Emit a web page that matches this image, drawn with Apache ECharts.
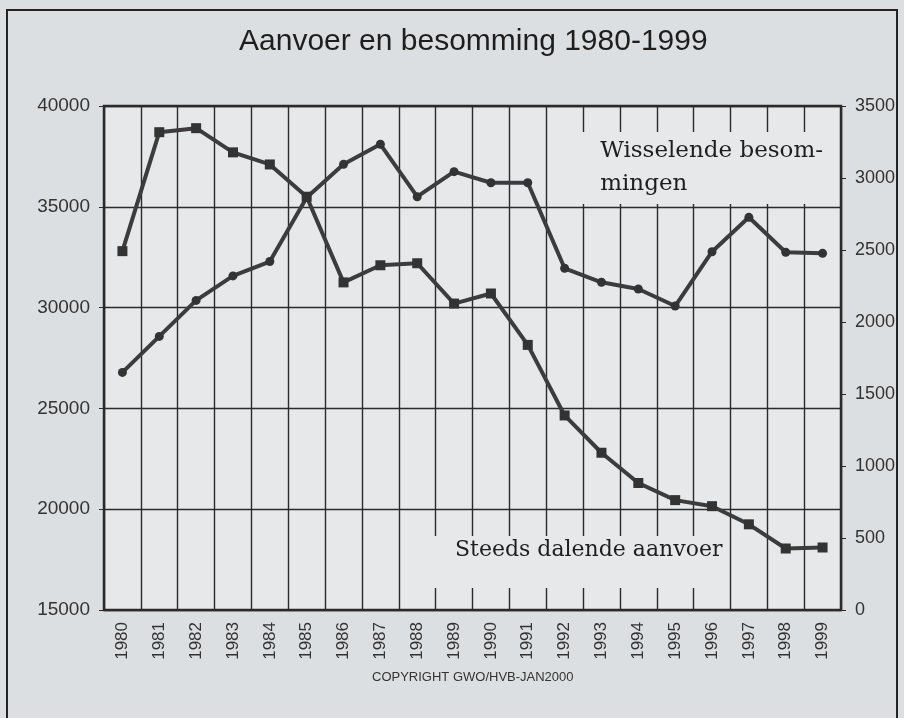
<!DOCTYPE html>
<html>
<head>
<meta charset="utf-8">
<title>Aanvoer en besomming 1980-1999</title>
<script src="https://cdn.jsdelivr.net/npm/echarts@6/dist/echarts.min.js"></script>
<style>
  html, body { margin: 0; padding: 0; background: #dcdfe1; }
  #chartLineBox { width: 904px; height: 718px; }
</style>
</head>
<body>
<div id="chartLineBox"></div>
<script>
// jaren (x-as)
var years = ['1980', '1981', '1982', '1983', '1984', '1985', '1986', '1987', '1988', '1989',
  '1990', '1991', '1992', '1993', '1994', '1995', '1996', '1997', '1998', '1999'];

// aanvoer, linker as
var aanvoer = [32800, 38700, 38900, 37700, 37100, 35500, 31250, 32100, 32200, 30200,
  30700, 28150, 24650, 22800, 21300, 20450, 20150, 19250, 18050, 18100];

// besomming, rechter as
var besomming = [1650, 1900, 2150, 2320, 2420, 2865, 3095, 3234, 2870, 3044,
  2967, 2967, 2373, 2276, 2229, 2111, 2488, 2727, 2484, 2477];

var leftTicks = { min: 15000, max: 40000, step: 5000 };
var rightTicks = { min: 0, max: 3500, step: 500 };

var chartLine = echarts.init(document.getElementById('chartLineBox'));

var ink = '#2b2b2b';
var plotBg = '#e6e8ea';

// getallen zonder duizendtal-scheiding
function plain(v) {
  return String(v);
}

var option = {
  backgroundColor: '#dcdfe1',
  animation: false,
  title: {
    text: 'Aanvoer en besomming 1980-1999',
    left: 234,
    top: 22,
    textStyle: {
      fontFamily: 'Liberation Sans',
      fontSize: 30,
      fontWeight: 'normal',
      color: '#1e1e1e'
    }
  },
  grid: {
    left: 104,
    right: 63,
    top: 106,
    bottom: 108,
    show: true,
    backgroundColor: plotBg,
    borderColor: ink,
    borderWidth: 2.5
  },
  xAxis: {
    type: 'category',
    data: years,
    boundaryGap: true,
    axisLine: { show: false },
    axisTick: { show: false },
    axisLabel: {
      rotate: 90,
      margin: 12,
      fontFamily: 'Liberation Sans',
      fontSize: 17,
      color: '#333'
    },
    splitLine: { show: true, interval: 0, lineStyle: { color: ink, width: 1.4 } }
  },
  yAxis: [
    {
      type: 'value',
      min: leftTicks.min,
      max: leftTicks.max,
      interval: leftTicks.step,
      axisLine: { show: false },
      axisTick: { show: true, length: 5, lineStyle: { color: ink } },
      axisLabel: {
        margin: 14,
        formatter: plain,
        fontFamily: 'Liberation Sans',
        fontSize: 19,
        color: '#333'
      },
      splitLine: { show: true, lineStyle: { color: ink, width: 1.4 } }
    },
    {
      type: 'value',
      min: rightTicks.min,
      max: rightTicks.max,
      interval: rightTicks.step,
      position: 'right',
      axisLine: { show: false },
      axisTick: { show: true, length: 5, lineStyle: { color: ink } },
      axisLabel: {
        margin: 14,
        formatter: plain,
        fontFamily: 'Liberation Sans',
        fontSize: 18,
        color: '#333'
      },
      splitLine: { show: false }
    }
  ],
  series: [
    {
      name: 'Aanvoer',
      type: 'line',
      yAxisIndex: 0,
      data: aanvoer,
      symbol: 'rect',
      symbolSize: 10,
      itemStyle: { color: '#333' },
      lineStyle: { color: '#3c3c3c', width: 4 },
      z: 5
    },
    {
      name: 'Besomming',
      type: 'line',
      yAxisIndex: 1,
      data: besomming,
      symbol: 'circle',
      symbolSize: 9,
      itemStyle: { color: '#333' },
      lineStyle: { color: '#3c3c3c', width: 4 },
      z: 5
    }
  ],
  graphic: [
    // buitenkader
    {
      type: 'rect',
      shape: { x: 7, y: 10, width: 890, height: 730 },
      style: { fill: 'none', stroke: '#222', lineWidth: 2 },
      silent: true
    },
    // vlakken achter de teksten in de grafiek
    {
      type: 'rect',
      shape: { x: 570, y: 132, width: 268, height: 72 },
      style: { fill: plotBg },
      z: 1
    },
    {
      type: 'rect',
      shape: { x: 426, y: 536, width: 302, height: 52 },
      style: { fill: plotBg },
      z: 1
    },
    {
      type: 'text',
      right: 81,
      top: 135,
      z: 10,
      style: {
        text: 'Wisselende besom-\nmingen',
        align: 'right',
        font: '23px "DejaVu Serif"',
        lineHeight: 33,
        fill: '#1e1e1e'
      }
    },
    {
      type: 'text',
      left: 455,
      top: 539,
      z: 10,
      style: {
        text: 'Steeds dalende aanvoer',
        font: '22px "DejaVu Serif"',
        fill: '#1e1e1e'
      }
    },
    {
      type: 'text',
      left: 372,
      top: 671,
      z: 10,
      style: {
        text: 'COPYRIGHT GWO/HVB-JAN2000',
        font: '13px "Liberation Sans"',
        fill: '#333'
      }
    }
  ]
};

chartLine.setOption(option);
</script>
</body>
</html>
